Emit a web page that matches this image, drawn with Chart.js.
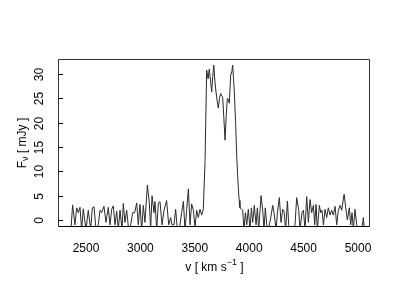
<!DOCTYPE html>
<html>
<head>
<meta charset="utf-8">
<script src="https://cdn.jsdelivr.net/npm/chart.js@4/dist/chart.umd.min.js"></script>
<style>
html,body{margin:0;padding:0;background:#fff;}
canvas{display:block;}
</style>
</head>
<body>
<canvas id="c" width="400" height="300"></canvas>
<script>
// Velocity channels (km/s)
const velocity = [
  2362,2377,2399,2414,2430,2445,2460,2475,2500,2521,2543,2558,2574,2592,2613,2629,2644,2665,2684,2705,
  2721,2736,2751,2767,2782,2797,2813,2831,2843,2858,2874,2892,2911,2929,2947,2966,2981,2996,3012,3027,
  3042,3064,3082,3094,3107,3125,3134,3150,3165,3180,3199,3217,3241,3260,3278,3290,3309,3324,3340,3358,
  3379,3395,3410,3425,3441,3456,3471,3487,3502,3517,3532,3548,3563,3578,
  3594,3609,3622,3633,3645,3655,3665,3674,3685,3695,3705,3716,3727,3738,3747,3756,3767,3778,3789,3799,
  3808,3817,3830,3840,3848,3856,3863,3875,3885,3893,3900,3908,3915,3927,
  3940,3952,3965,3977,3992,4007,4020,4032,4047,4063,4075,4087,4109,4124,4136,4148,4161,4176,4198,4216,
  4228,4247,4259,4277,4292,4308,4320,4335,4351,4363,4375,4390,4406,4421,4436,4455,4467,4485,4498,4513,
  4528,4544,4559,4574,4590,4602,4614,4626,4645,4657,4669,4682,4697,4712,4727,4743,4758,4773,4789,4804,
  4819,4835,4850,4872,4887,4902,4920,4933,4945,4957,4972,4988,5003,5034,5049,5058
];
// Flux density (mJy)
const flux = [
  -2.0,3.1,-1.0,2.5,1.5,2.6,-2.0,2.3,-2.0,2.0,-2.0,2.5,2.7,-2.0,-1.0,2.0,1.5,2.8,-0.5,2.6,
  -1.0,2.2,2.9,-1.0,1.8,-2.0,2.0,-2.0,3.4,-0.5,2.0,-2.0,-1.0,1.5,1.5,3.5,-1.0,3.2,-2.0,3.0,
  -0.5,7.2,3.5,-2.0,5.0,1.5,3.8,-2.0,3.5,3.8,-1.0,2.0,4.0,-1.0,0.5,-1.0,-1.0,2.2,-2.0,-2.0,
  1.5,3.8,-2.0,2.0,6.4,-1.0,3.3,2.0,-1.5,2.0,0.5,2.2,1.0,2.2,
  12.0,30.8,29.0,31.0,28.5,26.3,29.5,31.8,28.5,26.3,24.5,23.0,25.0,26.0,25.5,25.3,21.0,16.4,21.5,25.0,
  24.8,24.0,29.8,30.5,31.8,29.0,26.3,20.0,13.3,9.5,6.5,4.0,2.5,2.3,
  2.0,-2.0,1.5,-1.0,2.2,-2.0,2.5,-0.5,3.0,-1.0,2.5,-2.0,5.0,2.0,-2.0,2.5,-1.0,-2.0,0.5,3.0,
  1.5,-2.0,1.5,4.6,-0.5,2.2,1.8,-2.0,3.9,-1.0,-2.0,-2.0,-2.0,-1.0,4.6,2.0,-2.0,1.5,2.0,-2.0,
  4.8,-0.5,4.2,1.5,3.0,-1.0,3.2,-2.0,3.0,1.5,2.0,-1.0,2.2,0.5,2.5,1.0,2.0,1.0,2.8,-1.0,
  2.0,3.0,2.0,5.3,2.5,0.0,2.5,-1.0,1.5,-2.0,2.2,-1.0,-2.0,-2.0,0.5,-2.0
];
const xTicks = [2500, 3000, 3500, 4000, 4500, 5000];
const yTicks = [0, 5, 10, 15, 20, 25, 30];

const points = velocity.map((v, i) => ({x: v, y: flux[i]}));
const FONT = '"Liberation Sans", Arial, sans-serif';

const rStyle = {
  id: 'rStyle',
  afterDraw(chart) {
    const {ctx, chartArea: a, scales: {x, y}} = chart;
    ctx.save();
    // box
    ctx.strokeStyle = '#333';
    ctx.lineWidth = 1;
    ctx.beginPath();
    ctx.moveTo(a.left - 0.5, a.top + 0.5);
    ctx.lineTo(a.right - 0.5, a.top + 0.5);
    ctx.lineTo(a.right - 0.5, a.bottom - 0.5);
    ctx.moveTo(a.left - 0.5, a.top + 0.5);
    ctx.lineTo(a.left - 0.5, a.bottom - 0.5);
    ctx.stroke();
    ctx.strokeStyle = '#000';
    ctx.beginPath();
    ctx.moveTo(a.left - 0.5, a.bottom - 0.5);
    ctx.lineTo(a.right - 0.5, a.bottom - 0.5);
    ctx.stroke();
    // y ticks (inward) and labels
    ctx.fillStyle = '#000';
    ctx.font = '12px ' + FONT;
    ctx.textAlign = 'center';
    ctx.textBaseline = 'middle';
    yTicks.forEach(v => {
      const py = Math.round(y.getPixelForValue(v)) + 0.5;
      ctx.beginPath();
      ctx.moveTo(a.left - 1, py);
      ctx.lineTo(a.left + 4, py);
      ctx.stroke();
      ctx.save();
      ctx.translate(40, py);
      ctx.rotate(-Math.PI / 2);
      ctx.fillText(String(v), 0, 0);
      ctx.restore();
    });
    // x tick labels
    xTicks.forEach(v => {
      ctx.fillText(String(v), x.getPixelForValue(v), 249);
    });
    // x title: v [ km s^-1 ]
    const cx = (a.left + a.right) / 2;
    const parts = [
      {t: 'v [ km s', f: 12, dy: 0},
      {t: '\u22121', f: 9, dy: -5},
      {t: ' ]', f: 12, dy: 0}
    ];
    let w = 0;
    parts.forEach(p => { ctx.font = p.f + 'px ' + FONT; p.w = ctx.measureText(p.t).width; w += p.w; });
    ctx.textAlign = 'left';
    let sx = cx - w / 2;
    parts.forEach(p => { ctx.font = p.f + 'px ' + FONT; ctx.fillText(p.t, sx, 268 + p.dy); sx += p.w; });
    // y title: F_nu [ mJy ]
    const cy = (a.top + a.bottom) / 2;
    const yparts = [
      {t: 'F', f: 12, dy: 0},
      {t: '\u03bd', f: 9, dy: 3},
      {t: ' [ mJy ]', f: 12, dy: 0}
    ];
    w = 0;
    yparts.forEach(p => { ctx.font = p.f + 'px ' + FONT; p.w = ctx.measureText(p.t).width; w += p.w; });
    ctx.save();
    ctx.translate(23, cy);
    ctx.rotate(-Math.PI / 2);
    sx = -w / 2;
    yparts.forEach(p => { ctx.font = p.f + 'px ' + FONT; ctx.fillText(p.t, sx, p.dy); sx += p.w; });
    ctx.restore();
    ctx.restore();
  }
};

new Chart(document.getElementById('c'), {
  type: 'line',
  data: {
    datasets: [{
      data: points,
      borderColor: '#2a2a2a',
      borderWidth: 1,
      pointRadius: 0,
      tension: 0,
      fill: false
    }]
  },
  options: {
    responsive: false,
    animation: false,
    devicePixelRatio: 1,
    layout: {padding: {left: 59, top: 59, right: 30, bottom: 73}},
    scales: {
      x: {type: 'linear', min: 2252, max: 5110, display: false},
      y: {type: 'linear', min: -1.44, max: 33.08, display: false}
    },
    plugins: {legend: {display: false}, tooltip: {enabled: false}}
  },
  plugins: [rStyle]
});
</script>
</body>
</html>
